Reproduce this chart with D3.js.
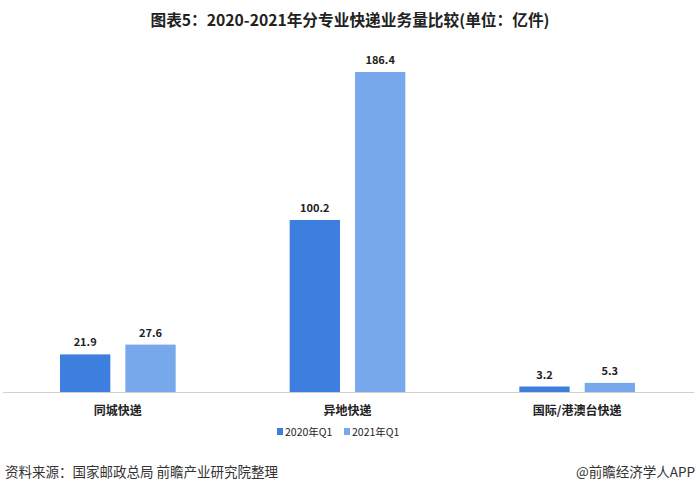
<!DOCTYPE html>
<html><head><meta charset="utf-8">
<script src="https://cdn.jsdelivr.net/npm/d3@7"></script>
<style>body{margin:0;background:#fff;} svg{display:block;font-family:"Noto Sans CJK SC","Microsoft YaHei",sans-serif;}</style>
</head><body>
<svg id="c" width="700" height="493"></svg>
<script>
const categories = ["同城快递", "异地快递", "国际/港澳台快递"];
const seriesNames = ["2020年Q1", "2021年Q1"];
const values2020 = [21.9, 100.2, 3.2];
const values2021 = [27.6, 186.4, 5.3];
const colors = ["#3D7FDE", "#76A8EB"];

const svg = d3.select("#c");
const left = 3, right = 692, baseY = 392;

const x0 = d3.scaleBand().domain(categories).range([left, right]).paddingInner(0).paddingOuter(0);
const x1 = d3.scaleBand().domain(seriesNames).range([57, x0.bandwidth() - 57]).paddingInner(0.23).paddingOuter(0);
const y = d3.scaleLinear().domain([0, 186.4]).range([baseY, 72]);

svg.append("text").attr("x", 350).attr("y", 26).attr("text-anchor", "middle")
  .attr("font-size", 15.7).attr("font-weight", "bold").attr("fill", "#222")
  .text("图表5：2020-2021年分专业快递业务量比较(单位：亿件)");

const data = categories.map((c, i) => ({cat: c, vals: [values2020[i], values2021[i]]}));

const g = svg.append("g");
data.forEach(d => {
  d.vals.forEach((v, j) => {
    const xx = x0(d.cat) + x1(seriesNames[j]);
    g.append("rect").attr("x", xx).attr("y", y(v)).attr("width", x1.bandwidth())
      .attr("height", baseY - y(v)).attr("fill", colors[j]);
    g.append("text").attr("x", xx + x1.bandwidth() / 2).attr("y", y(v) - 8)
      .attr("text-anchor", "middle").attr("font-size", 11).attr("font-weight", "bold")
      .attr("fill", "#222").text(v.toFixed(1));
  });
});

const xAxis = svg.append("g").attr("transform", `translate(0,${baseY})`)
  .call(d3.axisBottom(x0).tickSize(0).tickPadding(14));
xAxis.select(".domain").attr("stroke", "#d0d0d0").attr("d", `M${left},0.5H${right + 2}`);
xAxis.selectAll("text").attr("font-size", 12).attr("font-weight", "bold").attr("fill", "#222")
  .attr("font-family", '"Noto Sans CJK SC",sans-serif');

const leg = svg.append("g").attr("transform", "translate(0,432)");
const legX = [277, 344];
seriesNames.forEach((s, j) => {
  leg.append("rect").attr("x", legX[j]).attr("y", -4).attr("width", 6).attr("height", 7).attr("fill", colors[j]);
  leg.append("text").attr("x", legX[j] + 8).attr("y", 4).attr("font-size", 10.5).attr("fill", "#222").text(s);
});

svg.append("text").attr("x", 5).attr("y", 477).attr("font-size", 13.5).attr("fill", "#333")
  .text("资料来源：国家邮政总局 前瞻产业研究院整理");
svg.append("text").attr("x", 695).attr("y", 477).attr("text-anchor", "end").attr("font-size", 13.5).attr("fill", "#333")
  .text("@前瞻经济学人APP");
</script>
</body></html>
